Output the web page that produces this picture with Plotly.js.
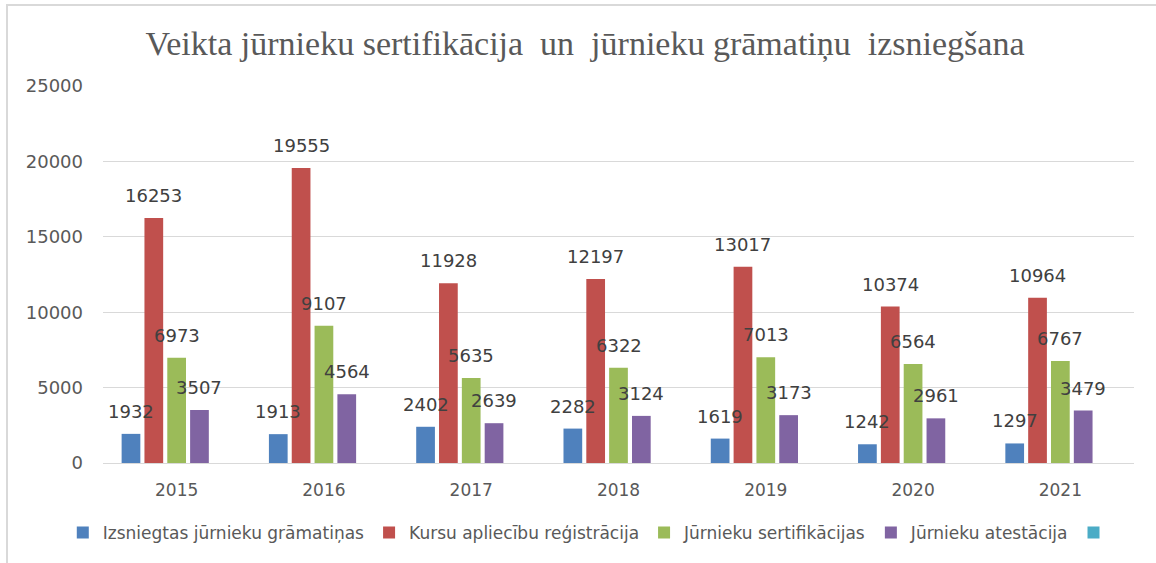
<!DOCTYPE html>
<html>
<head>
<meta charset="utf-8">
<script src="https://cdn.plot.ly/plotly-3.0.1.min.js"></script>
<style>
  html, body { margin: 0; padding: 0; background: #fff; }
  #wrap { position: relative; width: 1156px; height: 563px; }
  #chart { width: 1156px; height: 563px; }
  #frame { position: absolute; left: 6px; top: 4px; width: 1150px; height: 559px;
           border-top: 2px solid #d9d9d9; border-left: 2px solid #d9d9d9; box-sizing: border-box;
           pointer-events: none; }
</style>
</head>
<body>
<div id="wrap">
  <div id="chart"></div>
  <div id="frame"></div>
</div>
<script>
const years = ['2015', '2016', '2017', '2018', '2019', '2020', '2021'];
const gramatinas = [1932, 1913, 2402, 2282, 1619, 1242, 1297];
const kursu = [16253, 19555, 11928, 12197, 13017, 10374, 10964];
const sertifikacijas = [6973, 9107, 5635, 6322, 7013, 6564, 6767];
const atestacija = [3507, 4564, 2639, 3124, 3173, 2961, 3479];
const empty = [null, null, null, null, null, null, null];

const seriesNames = ['Izsniegtas jūrnieku grāmatiņas', 'Kursu apliecību reģistrācija',
                     'Jūrnieku sertifikācijas', 'Jūrnieku atestācija', ' '];
const seriesValues = [gramatinas, kursu, sertifikacijas, atestacija, empty];
const colors = ['#4F81BD', '#C0504D', '#9BBB59', '#8064A2', '#4BACC6'];

const bargap = 0.225;
const nSeries = seriesValues.length;
const slot = (1 - bargap) / nSeries;

const traces = seriesValues.map((vals, k) => ({
  type: 'bar',
  name: seriesNames[k],
  x: years,
  y: vals,
  marker: { color: colors[k] },
  hoverinfo: 'x+y+name'
}));

const annotations = [];
seriesValues.forEach((vals, k) => {
  vals.forEach((v, i) => {
    if (v === null) return;
    annotations.push({
      xref: 'x', yref: 'y',
      x: i + (k - (nSeries - 1) / 2) * slot,
      y: v,
      text: String(v),
      showarrow: false,
      xanchor: 'center', yanchor: 'bottom',
      yshift: 10,
      font: { family: 'DejaVu Sans', size: 18, color: '#404040' }
    });
  });
});

const layout = {
  width: 1156, height: 563,
  paper_bgcolor: '#ffffff', plot_bgcolor: '#ffffff',
  margin: { l: 103, r: 22, t: 86, b: 100 },
  barmode: 'group',
  bargap: bargap,
  bargroupgap: 0.18,
  title: {
    text: 'Veikta jūrnieku sertifikācija  un  jūrnieku grāmatiņu  izsniegšana',
    font: { family: 'Liberation Serif', size: 34, color: '#595959' },
    x: 585 / 1156, xanchor: 'center', xref: 'container',
    y: 1 - 43 / 563, yanchor: 'middle', yref: 'container'
  },
  font: { family: 'DejaVu Sans', color: '#595959' },
  xaxis: {
    type: 'category',
    tickfont: { family: 'DejaVu Sans', size: 17, color: '#595959' },
    showgrid: false, zeroline: false,
    showline: true, linecolor: '#d9d9d9', linewidth: 1,
    ticks: '', ticklabelstandoff: 12
  },
  yaxis: {
    range: [0, 25000],
    tickvals: [0, 5000, 10000, 15000, 20000, 25000],
    ticktext: ['0', '5000', '10000', '15000', '20000', '25000'],
    tickfont: { family: 'DejaVu Sans', size: 18, color: '#595959' },
    showgrid: true, gridcolor: '#d9d9d9', gridwidth: 1,
    zeroline: false, showline: false, ticks: '',
    ticklabelstandoff: 19
  },
  legend: {
    orientation: 'h',
    xref: 'paper', yref: 'paper',
    x: -0.039, xanchor: 'left',
    y: -70 / 377, yanchor: 'middle',
    font: { family: 'DejaVu Sans', size: 17, color: '#595959' },
    itemwidth: 30,
    traceorder: 'normal'
  },
  annotations: annotations,
  showlegend: true
};

Plotly.newPlot('chart', traces, layout, { displayModeBar: false, staticPlot: true });
</script>
</body>
</html>
